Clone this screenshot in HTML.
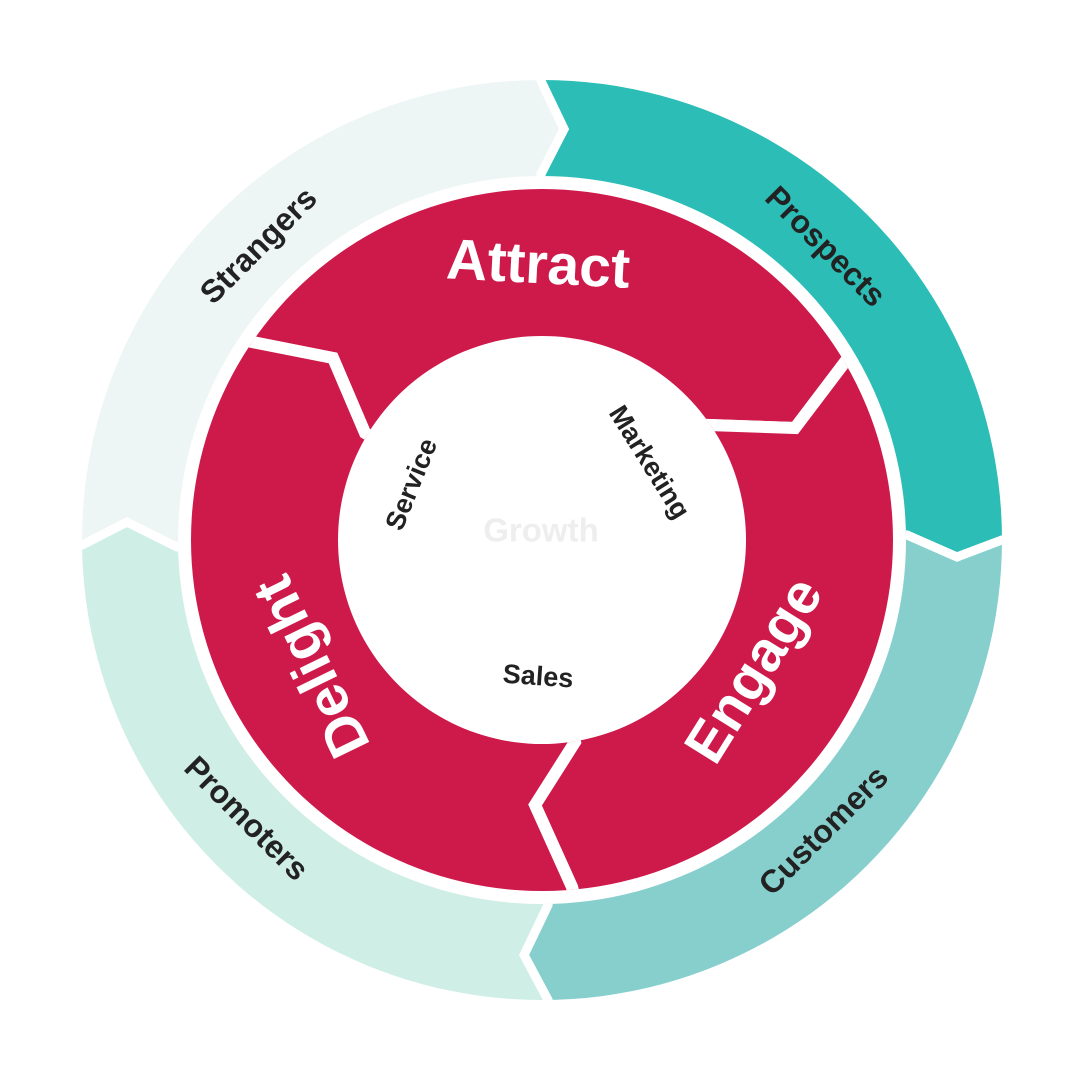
<!DOCTYPE html>
<html><head><meta charset="utf-8"><style>
html,body{margin:0;padding:0;background:#fff;width:1080px;height:1080px;overflow:hidden}
svg{display:block;position:absolute;left:0;top:0}
text{font-family:"Liberation Sans",sans-serif;font-weight:bold}
</style></head><body>
<svg width="1080" height="1080" viewBox="0 0 1080 1080">
<defs>
<clipPath id="outer"><path clip-rule="evenodd" d="M542,80a460,460 0 1,0 0.01,0Z M542,176a364,364 0 1,0 0.01,0Z"/></clipPath>
<clipPath id="inner"><path clip-rule="evenodd" d="M542,189a351,351 0 1,0 0.01,0Z M542,336a204,204 0 1,0 0.01,0Z"/></clipPath>
</defs>
<g clip-path="url(#outer)" stroke="#fff" stroke-width="9" stroke-linejoin="miter">
<polygon fill="#2CBDB6" points="541,300 541,174 564,129 541,81 541,-50 1150,-50 1150,545 1002,540 957,557 907,535 800,535"/>
<polygon fill="#86CFCD" points="800,535 907,535 957,557 1002,540 1150,545 1150,1150 545,1150 548,1000 524,955 548,905 560,800"/>
<polygon fill="#CFEEE5" points="560,800 548,905 524,955 548,1000 545,1150 -50,1150 -50,545 82,545 127,522 177,547 300,540"/>
<polygon fill="#EEF6F5" points="300,540 177,547 127,522 82,545 -50,545 -50,-50 541,-50 541,81 564,129 541,174 541,300"/>
</g>
<g clip-path="url(#inner)" fill="#CE1A4A" stroke="#fff" stroke-width="12">
<polygon points="542,540 365,433 333,358 252,342 100,310 100,0 1000,0 900,290 845,362 795,428 708,425"/>
<polygon points="542,540 708,425 795,428 845,362 900,290 1100,300 1100,1100 600,1000 572,887 535,805 575,742"/>
<polygon points="542,540 575,742 535,805 572,887 600,1000 0,1000 0,300 100,310 252,342 333,358 365,433"/>
</g>
<g fill="#222" font-size="32">
<text transform="translate(260,247) rotate(-45)" text-anchor="middle" dominant-baseline="middle">Strangers</text>
<text transform="translate(824,248) rotate(45)" text-anchor="middle" dominant-baseline="middle">Prospects</text>
<text transform="translate(825,832) rotate(-45)" text-anchor="middle" dominant-baseline="middle">Customers</text>
<text transform="translate(245,820) rotate(45)" text-anchor="middle" dominant-baseline="middle">Promoters</text>
</g>
<g fill="#fff" font-size="57">
<text transform="translate(538,268) rotate(3)" text-anchor="middle" dominant-baseline="middle">Attract</text>
<text transform="translate(757,672) rotate(-58)" text-anchor="middle" dominant-baseline="middle">Engage</text>
<text transform="translate(315,665) rotate(-116)" text-anchor="middle" dominant-baseline="middle">Delight</text>
</g>
<g fill="#222" font-size="27">
<text transform="translate(413,485) rotate(-68)" text-anchor="middle" dominant-baseline="middle">Service</text>
<text transform="translate(648,463) rotate(58)" text-anchor="middle" dominant-baseline="middle">Marketing</text>
<text transform="translate(538,678) rotate(4)" text-anchor="middle" dominant-baseline="middle">Sales</text>
</g>
<text x="541" y="533" fill="#EEEEEE" font-size="33" text-anchor="middle" dominant-baseline="middle">Growth</text>
</svg>
</body></html>
